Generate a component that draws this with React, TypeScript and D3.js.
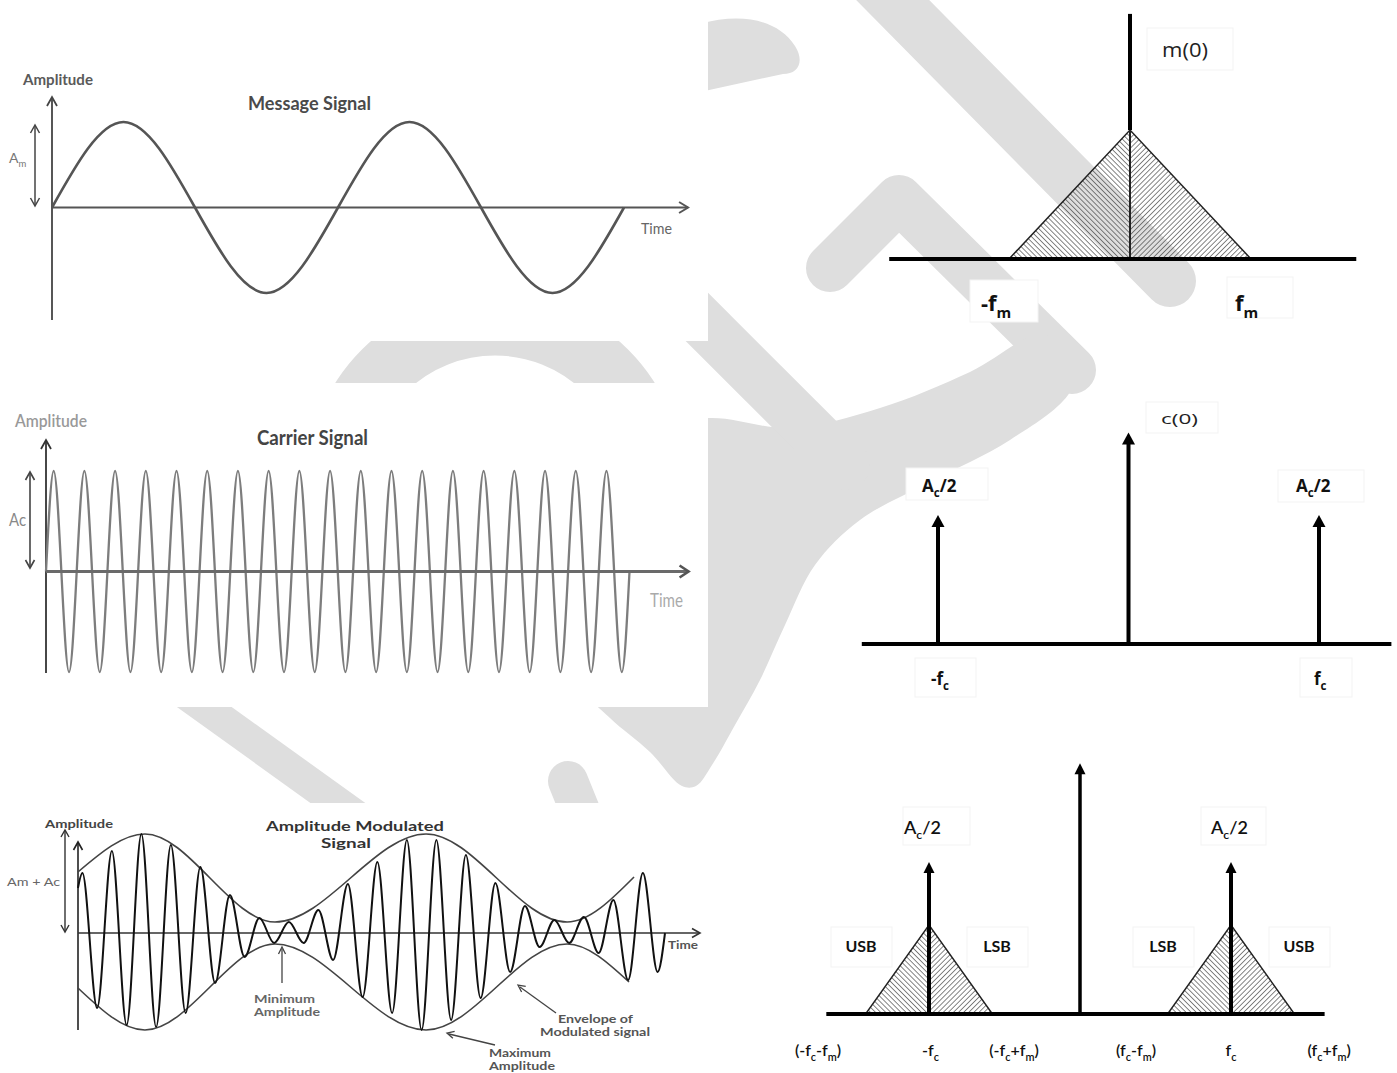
import React from "react";
import * as d3 from "d3";

const W = 1397;
const H = 1073;

// ---------------- Data ----------------
// Message signal: time in message periods, normalised amplitude
const messageTime = [0, 0.25, 0.75, 1.25, 1.75, 2.0];
const messageAmp = [0, 1, -1, 1, -1, 0];

// Carrier signal: time in carrier cycles, normalised amplitude
const carrierTime = [0, 0.25, 0.75, 1.25, 1.75, 2.25, 2.75, 3.25, 3.75, 4.25, 4.75, 5.25, 5.75, 6.25, 6.75, 7.25, 7.75, 8.25, 8.75, 9.25, 9.75, 10.25, 10.75, 11.25, 11.75, 12.25, 12.75, 13.25, 13.75, 14.25, 14.75, 15.25, 15.75, 16.25, 16.75, 17.25, 17.75, 18.25, 18.75, 19.0];
const carrierAmp = [0, 1, -1, 1, -1, 1, -1, 1, -1, 1, -1, 1, -1, 1, -1, 1, -1, 1, -1, 1, -1, 1, -1, 1, -1, 1, -1, 1, -1, 1, -1, 1, -1, 1, -1, 1, -1, 1, -1, 0];

// AM signal: time in carrier cycles, amplitude in arbitrary units
const amTime = [0.1, 0.25, 0.75, 1.25, 1.75, 2.25, 2.75, 3.25, 3.75, 4.25, 4.75, 5.25, 5.75, 6.25, 6.75, 7.25, 7.75, 8.25, 8.75, 9.25, 9.75, 10.25, 10.75, 11.25, 11.75, 12.25, 12.75, 13.25, 13.75, 14.25, 14.75, 15.25, 15.75, 16.25, 16.75, 17.25, 17.75, 18.25, 18.75, 19.25, 19.75, 20.0];
const amAmp = [45, 60, -75, 82, -92, 99, -94, 88, -80, 66, -50, 38, -24, 15, -10, 11, -10, 23, -27, 49, -64, 71, -80, 93, -97, 93, -87, 78, -65, 50, -39, 27, -14, 13, -10, 16, -20, 33, -47, 60, -39, 0];
const envUpperTime = [0.1, 2.37, 6.78, 11.9, 16.68, 18.95];
const envUpperAmp = [61, 99, 11, 99, 11, 56];
const envLowerTime = [0.1, 2.37, 6.78, 11.9, 16.68, 18.78];
const envLowerAmp = [-55, -97, -11, -97, -11, -49];

// Spectra (frequency in units of fm / fc)
const msgSpecFreq = [-1, 0, 1];
const msgSpecLevel = [0, 1, 0];
const msgSpecDC = 1.9;
const carSpecFreq = [-1, 0, 1];
const carSpecLevel = [1, 1.64, 1];
const amSpecFreq = [-1, 0, 1];
const amSpecLevel = [1, 1.65, 1];
const amSidebandWidth = 0.42;
const amSidebandPeak = 0.585;

type Part = { t: string; sub?: boolean };
const amSpecBottomLabels: Part[][] = [
  [{ t: "(-f" }, { t: "c", sub: true }, { t: "-f" }, { t: "m", sub: true }, { t: ")" }],
  [{ t: "-f" }, { t: "c", sub: true }],
  [{ t: "(-f" }, { t: "c", sub: true }, { t: "+f" }, { t: "m", sub: true }, { t: ")" }],
  [{ t: "(f" }, { t: "c", sub: true }, { t: "-f" }, { t: "m", sub: true }, { t: ")" }],
  [{ t: "f" }, { t: "c", sub: true }],
  [{ t: "(f" }, { t: "c", sub: true }, { t: "+f" }, { t: "m", sub: true }, { t: ")" }],
];
const amSpecBottomLabelPos = [-1.735, -0.99, -0.437, 0.371, 1.0, 1.65];
const sidebandNames = ["USB", "LSB", "LSB", "USB"];

const WM = "#dedede";
const CAL = "Lato, 'Open Sans', sans-serif";
const OS = "'Open Sans', 'Noto Sans', sans-serif";

function openHead(tx: number, ty: number, fx: number, fy: number, len = 8, half = 5) {
  const dx = tx - fx, dy = ty - fy;
  const L = Math.hypot(dx, dy);
  const ux = dx / L, uy = dy / L;
  const bx = tx - ux * len, by = ty - uy * len;
  const px = -uy, py = ux;
  return `M${bx + px * half},${by + py * half}L${tx},${ty}L${bx - px * half},${by - py * half}`;
}
function filledHead(tx: number, ty: number, len = 12, half = 6.5) {
  return `M${tx},${ty}L${tx + half},${ty + len}L${tx - half},${ty + len}Z`;
}

function Rich(props: { x: number; y: number; parts: Part[]; size: number; weight?: number; fill?: string; family?: string; anchor?: string }) {
  const { x, y, parts, size, weight = 400, fill = "#111", family = OS, anchor = "start" } = props;
  let prevSub = false;
  const off = size * 0.3;
  return (
    <text x={x} y={y} fontSize={size} fontWeight={weight} fill={fill} fontFamily={family} textAnchor={anchor as any}>
      {parts.map((p, i) => {
        let dy = 0;
        if (p.sub && !prevSub) dy = off;
        else if (!p.sub && prevSub) dy = -off;
        prevSub = !!p.sub;
        return (
          <tspan key={i} dy={dy !== 0 ? dy : undefined} fontSize={p.sub ? size * 0.68 : undefined}>
            {p.t}
          </tspan>
        );
      })}
    </text>
  );
}

function Box({ x, y, w, h }: { x: number; y: number; w: number; h: number }) {
  return <rect x={x} y={y} width={w} height={h} fill="#fff" stroke="#f3f3f3" strokeWidth={1} />;
}

export default function App() {
  const mono = d3.line<[number, number]>().curve(d3.curveMonotoneX);

  // ---- message panel
  const msgX = d3.scaleLinear().domain([0, 2]).range([52, 624]);
  const msgY = d3.scaleLinear().domain([-1, 1]).range([293, 122]);
  const msgPath = mono(messageTime.map((t, i) => [msgX(t), msgY(messageAmp[i])] as [number, number]))!;
  const msgAxisY = msgY(0);
  const msgAxisEnd = msgX(2.224);

  // ---- carrier panel
  const carX = d3.scaleLinear().domain([0, 19]).range([46, 629.5]);
  const carY = d3.scaleLinear().domain([-1, 1]).range([672, 471]);
  const carPath = mono(carrierTime.map((t, i) => [carX(t), carY(carrierAmp[i])] as [number, number]))!;
  const carAxisY = carY(0);
  const carAxisEnd = carX(19.1) + 55;

  // ---- AM panel
  const amX = d3.scaleLinear().domain([0, 20]).range([75, 665]);
  const amY = d3.scaleLinear().domain([-100, 100]).range([1033, 833]);
  const amPath = mono(amTime.map((t, i) => [amX(t), amY(amAmp[i])] as [number, number]))!;
  const envU = mono(envUpperTime.map((t, i) => [amX(t), amY(envUpperAmp[i])] as [number, number]))!;
  const envL = mono(envLowerTime.map((t, i) => [amX(t), amY(envLowerAmp[i])] as [number, number]))!;
  const amAxisY = amY(0);

  // ---- spectra
  const tX = d3.scaleLinear().domain([-1, 1]).range([1009, 1251]);
  const tY = d3.scaleLinear().domain([0, 1]).range([259, 130]);
  const mX = d3.scaleLinear().domain([-1, 1]).range([938, 1319]);
  const mY = d3.scaleLinear().domain([0, 1]).range([644, 515]);
  const bX = d3.scaleLinear().domain([-1, 1]).range([929, 1231]);
  const bY = d3.scaleLinear().domain([0, 1]).range([1014, 862]);

  const apexIdx = msgSpecLevel.indexOf(1);
  const tApexX = tX(msgSpecFreq[apexIdx]);
  const tApexY = tY(msgSpecLevel[apexIdx]);
  const tLeft = [tX(msgSpecFreq[0]), tY(msgSpecLevel[0])];
  const tRight = [tX(msgSpecFreq[2]), tY(msgSpecLevel[2])];

  // watermark blob (decorative background logo)
  const blobPts: [number, number][] = [
    [600, 440], [708, 418], [790, 428], [880, 408], [970, 372], [1040, 335], [1078, 350], [1070, 392],
    [1010, 440], [930, 482], [860, 520], [815, 565], [785, 625], [760, 680], [735, 725], [712, 765],
    [696, 786], [682, 786], [650, 752], [610, 718], [585, 690], [570, 600],
  ];
  const blob = d3.line().curve(d3.curveCatmullRomClosed.alpha(0.5))(blobPts)!;

  return (
    <svg width={W} height={H} viewBox={`0 0 ${W} ${H}`} style={{ position: "absolute", left: 0, top: 0, display: "block", background: "#fff" }}>
      <defs>
        <pattern id="hatchL" width="3.6" height="3.6" patternUnits="userSpaceOnUse" patternTransform="rotate(-45)">
          <line x1="0" y1="-1" x2="0" y2="5" stroke="#333" strokeWidth="1.2" />
        </pattern>
        <pattern id="hatchR" width="3.6" height="3.6" patternUnits="userSpaceOnUse" patternTransform="rotate(45)">
          <line x1="0" y1="-1" x2="0" y2="5" stroke="#333" strokeWidth="1.2" />
        </pattern>
      </defs>
      <rect x={0} y={0} width={W} height={H} fill="#fff" />

      {/* ---------- watermark ---------- */}
      <g>
        <path d="M700,24 C742,12 778,20 795,46 C805,62 798,74 783,74 L700,92 Z" fill={WM} />
        <line x1={868} y1={-25} x2={1170} y2={281} stroke={WM} strokeWidth={52} strokeLinecap="round" />
        <polyline points="830,268 899,199 1072,370" fill="none" stroke={WM} strokeWidth={48} strokeLinecap="round" strokeLinejoin="round" />
        <path d={blob} fill={WM} />
        <line x1={642} y1={262} x2={845} y2={465} stroke={WM} strokeWidth={50} strokeLinecap="round" />
        <circle cx={495} cy={483} r={158} fill="none" stroke={WM} strokeWidth={61} />
        <line x1={568} y1={781} x2={600} y2={860} stroke={WM} strokeWidth={40} strokeLinecap="round" />
        <line x1={150} y1={668} x2={420} y2={862} stroke={WM} strokeWidth={32} />
      </g>

      {/* ---------- left image backgrounds ---------- */}
      <rect x={0} y={0} width={708} height={341} fill="#fff" />
      <rect x={0} y={383} width={708} height={324} fill="#fff" />
      <rect x={0} y={803} width={705} height={270} fill="#fff" />

      {/* ---------- Message signal ---------- */}
      <g>
        <line x1={msgX(0)} y1={320} x2={msgX(0)} y2={97} stroke="#444" strokeWidth={1.8} />
        <path d={openHead(msgX(0), 97, msgX(0), 120, 9, 5)} fill="none" stroke="#444" strokeWidth={1.8} />
        <line x1={msgX(0)} y1={msgAxisY} x2={msgAxisEnd} y2={msgAxisY} stroke="#555" strokeWidth={2} />
        <path d={openHead(msgAxisEnd, msgAxisY, msgAxisEnd - 20, msgAxisY, 9, 5.5)} fill="none" stroke="#555" strokeWidth={2} />
        <path d={msgPath} fill="none" stroke="#555" strokeWidth={2.6} />
        <line x1={35} y1={126} x2={35} y2={205} stroke="#444" strokeWidth={1.5} />
        <path d={openHead(35, 125, 35, 140, 8, 4.5)} fill="none" stroke="#444" strokeWidth={1.5} />
        <path d={openHead(35, 206, 35, 190, 8, 4.5)} fill="none" stroke="#444" strokeWidth={1.5} />
        <text x={23} y={85} fontSize={15} fontWeight={700} fill="#5a5a5a" fontFamily={CAL} textLength={70} lengthAdjust="spacingAndGlyphs">Amplitude</text>
        <text x={248} y={110} fontSize={19} fontWeight={700} fill="#4a4a4a" fontFamily={CAL} textLength={123} lengthAdjust="spacingAndGlyphs">Message Signal</text>
        <Rich x={9} y={163} parts={[{ t: "A" }, { t: "m", sub: true }]} size={14} fill="#777" family={CAL} />
        <text x={641} y={234} fontSize={15} fill="#666" fontFamily={CAL} textLength={31} lengthAdjust="spacingAndGlyphs">Time</text>
      </g>

      {/* ---------- Carrier signal ---------- */}
      <g>
        <line x1={carX(0)} y1={673} x2={carX(0)} y2={440} stroke="#333" strokeWidth={1.8} />
        <path d={openHead(carX(0), 440, carX(0), 460, 9, 5)} fill="none" stroke="#333" strokeWidth={1.8} />
        <path d={carPath} fill="none" stroke="#7d7d7d" strokeWidth={2.3} />
        <line x1={carX(0)} y1={carAxisY} x2={carAxisEnd} y2={carAxisY} stroke="#6a6a6a" strokeWidth={3} />
        <path d={openHead(carAxisEnd + 1, carAxisY, carAxisEnd - 20, carAxisY, 9, 6)} fill="none" stroke="#555" strokeWidth={2.6} />
        <line x1={30} y1={473} x2={30} y2={566} stroke="#444" strokeWidth={1.6} />
        <path d={openHead(30, 472, 30, 490, 8, 4.5)} fill="none" stroke="#444" strokeWidth={1.6} />
        <path d={openHead(30, 568, 30, 550, 8, 4.5)} fill="none" stroke="#444" strokeWidth={1.6} />
        <text x={15} y={427} fontSize={17} fontWeight={600} fill="#999" fontFamily={CAL} textLength={72} lengthAdjust="spacingAndGlyphs">Amplitude</text>
        <text x={257} y={445} fontSize={20} fontWeight={700} fill="#444" fontFamily={CAL} textLength={111} lengthAdjust="spacingAndGlyphs">Carrier Signal</text>
        <text x={9} y={526} fontSize={17} fill="#888" fontFamily={CAL} textLength={17} lengthAdjust="spacingAndGlyphs">Ac</text>
        <text x={650} y={607} fontSize={19} fill="#aaa" fontFamily={CAL} textLength={33} lengthAdjust="spacingAndGlyphs">Time</text>
      </g>

      {/* ---------- AM signal ---------- */}
      <g>
        <line x1={78} y1={1030} x2={78} y2={843} stroke="#222" strokeWidth={1.6} />
        <path d={openHead(78, 842, 78, 860, 8, 4.5)} fill="none" stroke="#222" strokeWidth={1.6} />
        <line x1={78} y1={amAxisY} x2={699} y2={amAxisY} stroke="#333" strokeWidth={1.6} />
        <path d={openHead(700, amAxisY, 680, amAxisY, 8, 4.5)} fill="none" stroke="#333" strokeWidth={1.6} />
        <line x1={65} y1={831} x2={65} y2={931} stroke="#333" strokeWidth={1.4} />
        <path d={openHead(65, 830, 65, 845, 7, 4)} fill="none" stroke="#333" strokeWidth={1.4} />
        <path d={openHead(65, 932, 65, 915, 7, 4)} fill="none" stroke="#333" strokeWidth={1.4} />
        <path d={envU} fill="none" stroke="#444" strokeWidth={1.6} />
        <path d={envL} fill="none" stroke="#444" strokeWidth={1.6} />
        <path d={amPath} fill="none" stroke="#111" strokeWidth={2} />
        {/* annotation arrows */}
        <line x1={282} y1={983} x2={282} y2={949} stroke="#444" strokeWidth={1.3} />
        <path d={openHead(282, 947, 282, 960, 7, 3.5)} fill="none" stroke="#444" strokeWidth={1.3} />
        <line x1={556} y1={1013} x2={520} y2={987} stroke="#444" strokeWidth={1.3} />
        <path d={openHead(518, 985, 540, 1001, 7, 3.5)} fill="none" stroke="#444" strokeWidth={1.3} />
        <line x1={495} y1={1045} x2={449} y2={1034} stroke="#444" strokeWidth={1.3} />
        <path d={openHead(447, 1033, 470, 1039, 7, 3.5)} fill="none" stroke="#444" strokeWidth={1.3} />
        <text x={45} y={828} fontSize={12} fontWeight={700} fill="#444" fontFamily={CAL} textLength={68} lengthAdjust="spacingAndGlyphs">Amplitude</text>
        <text x={266} y={831} fontSize={14} fontWeight={700} fill="#333" fontFamily={CAL} textLength={178} lengthAdjust="spacingAndGlyphs">Amplitude Modulated</text>
        <text x={321} y={848} fontSize={14} fontWeight={700} fill="#333" fontFamily={CAL} textLength={50} lengthAdjust="spacingAndGlyphs">Signal</text>
        <text x={7} y={886} fontSize={11} fill="#666" fontFamily={CAL} textLength={53} lengthAdjust="spacingAndGlyphs">Am + Ac</text>
        <text x={668} y={949} fontSize={11} fontWeight={700} fill="#555" fontFamily={CAL} textLength={30} lengthAdjust="spacingAndGlyphs">Time</text>
        <text x={254} y={1003} fontSize={11.5} fontWeight={700} fill="#666" fontFamily={CAL} textLength={61} lengthAdjust="spacingAndGlyphs">Minimum</text>
        <text x={254} y={1016} fontSize={11.5} fontWeight={700} fill="#666" fontFamily={CAL} textLength={66} lengthAdjust="spacingAndGlyphs">Amplitude</text>
        <text x={558} y={1023} fontSize={11.5} fontWeight={700} fill="#555" fontFamily={CAL} textLength={75} lengthAdjust="spacingAndGlyphs">Envelope of</text>
        <text x={540} y={1036} fontSize={11.5} fontWeight={700} fill="#555" fontFamily={CAL} textLength={110} lengthAdjust="spacingAndGlyphs">Modulated signal</text>
        <text x={489} y={1057} fontSize={11} fontWeight={700} fill="#555" fontFamily={CAL} textLength={62} lengthAdjust="spacingAndGlyphs">Maximum</text>
        <text x={489} y={1070} fontSize={11} fontWeight={700} fill="#555" fontFamily={CAL} textLength={66} lengthAdjust="spacingAndGlyphs">Amplitude</text>
      </g>

      {/* ---------- Message spectrum ---------- */}
      <g>
        <path d={`M${tLeft[0]},${tLeft[1]}L${tApexX},${tApexY}L${tApexX},${tLeft[1]}Z`} fill="url(#hatchL)" />
        <path d={`M${tApexX},${tLeft[1]}L${tApexX},${tApexY}L${tRight[0]},${tRight[1]}Z`} fill="url(#hatchR)" />
        <path d={`M${tLeft[0]},${tLeft[1]}L${tApexX},${tApexY}L${tRight[0]},${tRight[1]}`} fill="none" stroke="#222" strokeWidth={1.5} />
        <line x1={tApexX} y1={tApexY} x2={tApexX} y2={tY(0)} stroke="#222" strokeWidth={2} />
        <line x1={tApexX} y1={tY(msgSpecDC)} x2={tApexX} y2={tApexY} stroke="#000" strokeWidth={4} />
        <line x1={tX(-1.99)} y1={tY(0)} x2={tX(1.87)} y2={tY(0)} stroke="#000" strokeWidth={4} />
        <Box x={1147} y={28} w={86} h={42} />
        <text x={1162} y={57} fontSize={20} fill="#222" fontFamily={OS} textLength={46} lengthAdjust="spacingAndGlyphs">m(0)</text>
        <Box x={970} y={280} w={68} h={42} />
        <Rich x={981} y={311} parts={[{ t: "-f" }, { t: "m", sub: true }]} size={22} weight={700} fill="#111" />
        <Box x={1227} y={277} w={66} h={41} />
        <Rich x={1235} y={311} parts={[{ t: "f" }, { t: "m", sub: true }]} size={22} weight={700} fill="#111" />
      </g>

      {/* ---------- Carrier spectrum ---------- */}
      <g>
        <line x1={mX(-1.4)} y1={mY(0)} x2={mX(1.38)} y2={mY(0)} stroke="#000" strokeWidth={4} />
        {carSpecFreq.map((f, i) => (
          <g key={i}>
            <line x1={mX(f)} y1={mY(0)} x2={mX(f)} y2={mY(carSpecLevel[i]) + 10} stroke="#000" strokeWidth={4} />
            <path d={filledHead(mX(f), mY(carSpecLevel[i]), 12, 6.5)} fill="#000" />
          </g>
        ))}
        <Box x={1146} y={402} w={72} h={31} />
        <text x={1161} y={424} fontSize={15} fill="#222" fontFamily={OS} textLength={37} lengthAdjust="spacingAndGlyphs">c(0)</text>
        <Box x={906} y={468} w={82} h={32} />
        <Rich x={922} y={492} parts={[{ t: "A" }, { t: "c", sub: true }, { t: "/2" }]} size={17} weight={700} fill="#111" />
        <Box x={1278} y={470} w={86} h={32} />
        <Rich x={1296} y={492} parts={[{ t: "A" }, { t: "c", sub: true }, { t: "/2" }]} size={17} weight={700} fill="#111" />
        <Box x={915} y={658} w={61} h={39} />
        <Rich x={931} y={685} parts={[{ t: "-f" }, { t: "c", sub: true }]} size={17} weight={700} fill="#111" />
        <Box x={1300} y={658} w={52} h={39} />
        <Rich x={1314} y={685} parts={[{ t: "f" }, { t: "c", sub: true }]} size={17} weight={700} fill="#111" />
      </g>

      {/* ---------- AM spectrum ---------- */}
      <g>
        {[amSpecFreq[0], amSpecFreq[2]].map((fc, k) => {
          const xl = bX(fc - amSidebandWidth), xc = bX(fc), xr = bX(fc + amSidebandWidth);
          const y0 = bY(0), ya = bY(amSidebandPeak);
          return (
            <g key={k}>
              <path d={`M${xl},${y0}L${xc},${ya}L${xc},${y0}Z`} fill="url(#hatchL)" />
              <path d={`M${xc},${y0}L${xc},${ya}L${xr},${y0}Z`} fill="url(#hatchR)" />
              <path d={`M${xl},${y0}L${xc},${ya}L${xr},${y0}`} fill="none" stroke="#222" strokeWidth={1.4} />
            </g>
          );
        })}
        <line x1={bX(-1.68)} y1={bY(0)} x2={bX(1.62)} y2={bY(0)} stroke="#000" strokeWidth={4} />
        {amSpecFreq.map((f, i) => (
          <g key={i}>
            <line x1={bX(f)} y1={bY(0)} x2={bX(f)} y2={bY(amSpecLevel[i]) + 9} stroke="#000" strokeWidth={i === 1 ? 3.5 : 4} />
            <path d={filledHead(bX(f), bY(amSpecLevel[i]), 11, 5.5)} fill="#000" />
          </g>
        ))}
        <Box x={903} y={807} w={67} h={38} />
        <Rich x={904} y={834} parts={[{ t: "A" }, { t: "c", sub: true }, { t: "/2" }]} size={18} weight={600} fill="#111" family={CAL} />
        <Box x={1201} y={807} w={65} h={38} />
        <Rich x={1211} y={834} parts={[{ t: "A" }, { t: "c", sub: true }, { t: "/2" }]} size={18} weight={600} fill="#111" family={CAL} />
        {sidebandNames.map((nm, i) => {
          const fc = i < 2 ? amSpecFreq[0] : amSpecFreq[2];
          const side = i % 2 === 0 ? -1 : 1;
          const cx = bX(fc) + side * 68;
          return (
            <g key={i}>
              <rect x={cx - 30} y={927} width={61} height={40} fill="#fff" stroke="#f3f3f3" />
              <text x={cx} y={952} textAnchor="middle" fontSize={16} fontWeight={700} fill="#111" fontFamily={CAL}>{nm}</text>
            </g>
          );
        })}
        {amSpecBottomLabels.map((parts, i) => (
          <Rich key={i} x={bX(amSpecBottomLabelPos[i])} y={1056} parts={parts} size={16} weight={600} fill="#111" family={CAL} anchor="middle" />
        ))}
      </g>
    </svg>
  );
}
